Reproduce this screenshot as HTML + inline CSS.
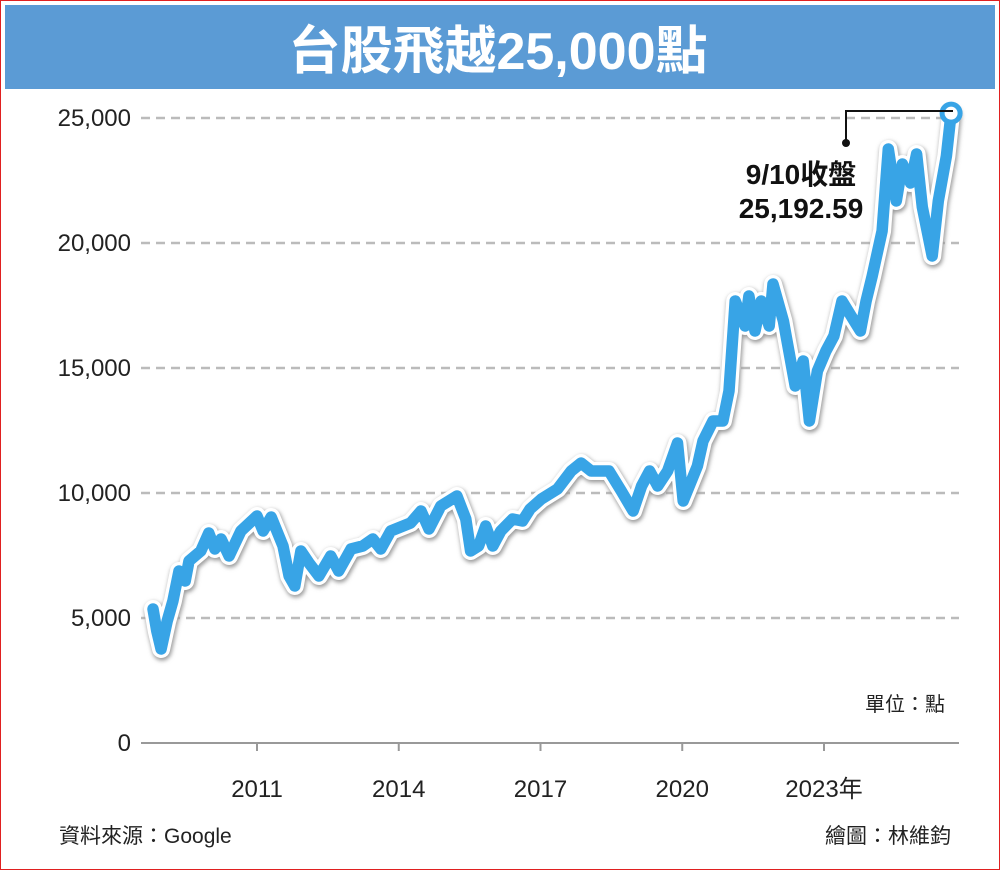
<!DOCTYPE html>
<html><head><meta charset="utf-8"><style>
body{margin:0;background:#fff}
#c{position:relative;width:998px;height:868px;border:1px solid #e02020;overflow:hidden;font-family:"Liberation Sans","Noto Sans CJK TC",sans-serif}
</style></head><body>
<div id="c">
<svg width="998" height="868">
<defs><filter id="sh" x="-5%" y="-5%" width="110%" height="110%"><feGaussianBlur stdDeviation="2"/></filter></defs>
<rect x="4" y="4" width="990" height="84" fill="#5b9bd5"/>
<text x="497" y="68" text-anchor="middle" font-size="52" font-weight="bold" fill="#fff">台股飛越25,000點</text>
<g id="grid"></g><g id="line"></g>
<text x="944" y="710" text-anchor="end" font-size="20" fill="#222">單位：點</text>
<text x="58" y="842" font-size="21" fill="#222">資料來源：Google</text>
<text x="950" y="842" text-anchor="end" font-size="21" fill="#222">繪圖：林維鈞</text>
<polyline points="952,110 845,110 845,142" fill="none" stroke="#111" stroke-width="2"/>
<circle cx="845" cy="142" r="4" fill="#111"/>
<text x="800" y="183" text-anchor="middle" font-size="28" font-weight="bold" fill="#111">9/10收盤</text>
<text x="800" y="217" text-anchor="middle" font-size="28" font-weight="bold" fill="#111">25,192.59</text>
</svg>
</div>
<script>
const years=[2008.80,2008.88,2008.97,2009.10,2009.22,2009.35,2009.48,2009.56,2009.81,2009.98,2010.11,2010.24,2010.41,2010.66,2011.00,2011.13,2011.30,2011.55,2011.68,2011.80,2011.93,2012.10,2012.31,2012.56,2012.73,2012.99,2013.24,2013.45,2013.62,2013.83,2014.25,2014.47,2014.64,2014.89,2015.23,2015.42,2015.52,2015.69,2015.84,2015.99,2016.16,2016.41,2016.62,2016.78,2017.02,2017.36,2017.65,2017.86,2018.07,2018.45,2018.71,2018.96,2019.14,2019.31,2019.48,2019.69,2019.90,2020.02,2020.32,2020.44,2020.65,2020.86,2020.99,2021.12,2021.33,2021.41,2021.54,2021.67,2021.84,2021.92,2022.14,2022.39,2022.56,2022.69,2022.86,2023.04,2023.21,2023.38,2023.64,2023.77,2023.89,2024.02,2024.23,2024.36,2024.53,2024.66,2024.83,2024.96,2025.08,2025.29,2025.42,2025.59,2025.69];
const values=[5360,4480,3760,4880,5680,6880,6480,7280,7680,8400,7760,8160,7480,8480,9080,8480,9040,7880,6680,6280,7680,7200,6680,7480,6880,7760,7880,8160,7760,8480,8800,9280,8560,9480,9880,8960,7680,7880,8680,7880,8480,8960,8880,9360,9760,10160,10880,11200,10880,10880,10080,9280,10280,10880,10280,10880,12000,9680,11080,12080,12880,12880,14080,17680,16680,17880,16480,17680,16680,18360,16880,14280,15280,12880,14880,15680,16280,17680,16880,16480,17680,18680,20480,23760,21680,23160,22400,23560,21440,19480,21680,23480,25193];
const yTicks=[0,5000,10000,15000,20000,25000];
const xTicks=[2011,2014,2017,2020,2023];
const xLabels=["2011","2014","2017","2020","2023年"];
const NS="http://www.w3.org/2000/svg";
const X=y=>256+(y-2011)*47.25, Y=v=>742-v*0.025;
function mk(t,a,p){const e=document.createElementNS(NS,t);for(const k in a)e.setAttribute(k,a[k]);p.appendChild(e);return e;}
const g=document.getElementById('grid');
yTicks.forEach(v=>{
 const l=mk('line',{x1:140,x2:958,y1:Y(v),y2:Y(v),stroke:v?'#bbb':'#999','stroke-width':v?2.5:2,'stroke-dasharray':v?'9,6':'none'},g);
 
 
 const t=mk('text',{x:130,y:Y(v)+8,'text-anchor':'end','font-size':24,fill:'#222'},g);
 t.textContent=v.toLocaleString('en-US');
 
 
});
xTicks.forEach((yr,i)=>{
 const l=mk('line',{x1:X(yr),x2:X(yr),y1:742,y2:750,stroke:'#999','stroke-width':2},g);
 
 
 const t=mk('text',{x:X(yr),y:796,'text-anchor':'middle','font-size':24,fill:'#222'},g);
 t.textContent=xLabels[i];
 
 
});
const lg=document.getElementById('line');
const pts=years.map((y,i)=>X(y).toFixed(1)+','+Y(values[i]).toFixed(1)).join(' ');
const s=mk('polyline',{points:pts,fill:'none',stroke:'#999','stroke-width':19,'stroke-linejoin':'round','stroke-linecap':'round',filter:'url(#sh)',transform:'translate(1,2)'},lg);


const w=mk('polyline',{points:pts,fill:'none',stroke:'#fff','stroke-width':18,'stroke-linejoin':'round','stroke-linecap':'round'},lg);


const b=mk('polyline',{points:pts,fill:'none',stroke:'#38a4e6','stroke-width':11.5,'stroke-linejoin':'round','stroke-linecap':'round'},lg);


const n=years.length-1;
const c=mk('circle',{cx:X(years[n]),cy:Y(values[n]),r:9,fill:'#fff',stroke:'#38a4e6','stroke-width':5},lg);


</script>
</body></html>
